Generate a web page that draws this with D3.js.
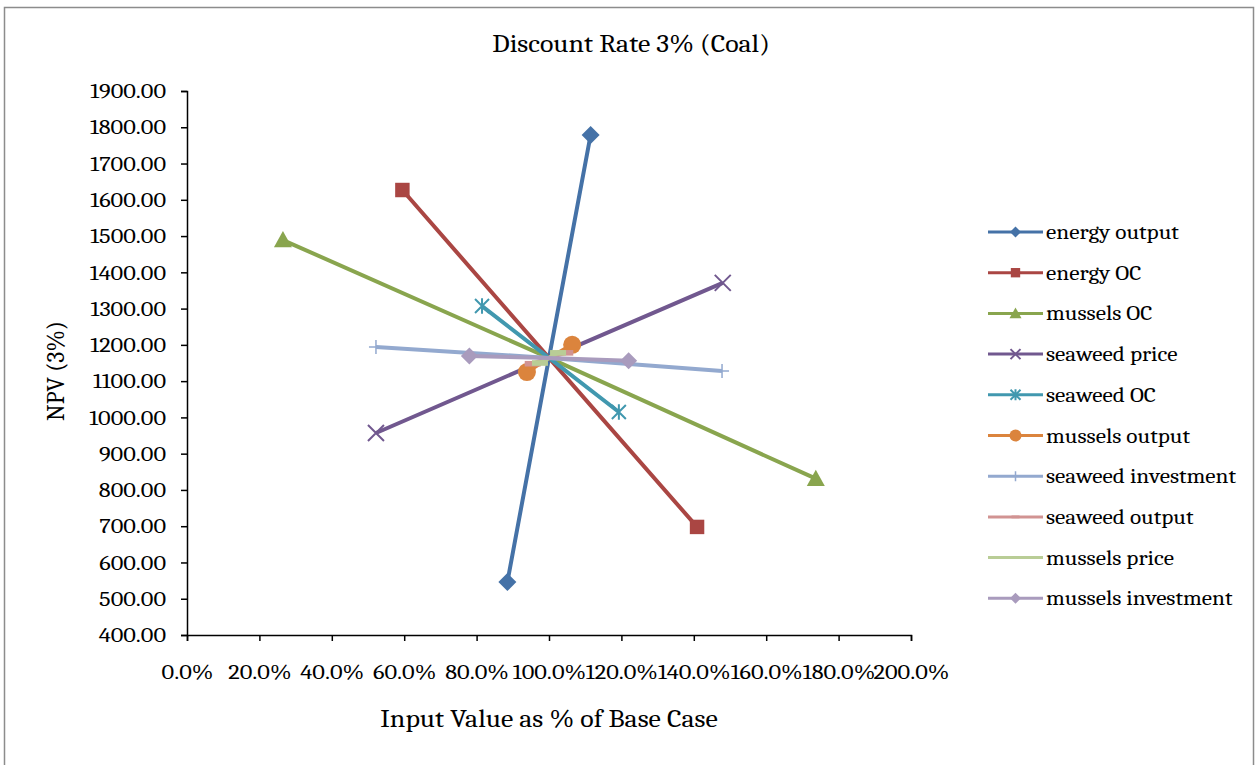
<!DOCTYPE html>
<html>
<head>
<meta charset="utf-8">
<script src="https://cdn.jsdelivr.net/npm/d3@7"></script>
<style>
  html, body { margin: 0; padding: 0; background: #fff; }
  svg { display: block; }
  text { font-family: Cambria, Caladea, "DejaVu Serif", serif; fill: #000; }
</style>
</head>
<body>
<svg id="chart" width="1258" height="765"></svg>
<script>
// Sensitivity of NPV (3% discount, coal) to each input, as % of base case
const seriesNames = [
  "energy output", "energy OC", "mussels OC", "seaweed price", "seaweed OC",
  "mussels output", "seaweed investment", "seaweed output", "mussels price", "mussels investment"
];
const energyOutput      = [[88.5, 546], [100, 1164], [111.5, 1779]];
const energyOC          = [[59.5, 1627], [100, 1164], [140.9, 698]];
const musselsOC         = [[26.5, 1489], [100, 1164], [173.7, 831]];
const seaweedPrice      = [[52.2, 957], [100, 1164], [148, 1371]];
const seaweedOC         = [[81.5, 1307], [100, 1164], [119.3, 1015]];
const musselsOutput     = [[93.9, 1125], [100, 1164], [106.4, 1200]];
const seaweedInvestment = [[52.2, 1194], [100, 1164], [147.8, 1128]];
const seaweedOutput     = [[95.5, 1148], [100, 1164], [104.5, 1178]];
const musselsPrice      = [[97.5, 1150], [100, 1164], [102.5, 1178]];
const musselsInvestment = [[78, 1169], [100, 1164], [122, 1156]];

const xTicks = [0, 20, 40, 60, 80, 100, 120, 140, 160, 180, 200];
const yTicks = [400, 500, 600, 700, 800, 900, 1000, 1100, 1200, 1300, 1400, 1500, 1600, 1700, 1800, 1900];

const seriesData = [energyOutput, energyOC, musselsOC, seaweedPrice, seaweedOC,
  musselsOutput, seaweedInvestment, seaweedOutput, musselsPrice, musselsInvestment];
const colors = ["#4572A7", "#AA4643", "#89A54E", "#71588F", "#4198AF",
  "#DB843D", "#93A9CF", "#D19392", "#B9CD96", "#A99BBD"];
const markers = ["diamond", "square", "triangle", "x", "star", "circle", "plus", "dash", "dash", "diamond"];

// text is drawn slightly widened horizontally
const SX = 1.16;

const svg = d3.select("#chart");

// outer frame
svg.append("rect").attr("x", 4.5).attr("y", 7.5).attr("width", 1249).attr("height", 800)
  .attr("fill", "#fff").attr("stroke", "#8c8c8c").attr("stroke-width", 1.5);

const x = d3.scaleLinear().domain([0, 200]).range([187, 911]);
const y = d3.scaleLinear().domain([400, 1900]).range([635, 91]);

// axes
const xAxis = d3.axisBottom(x).tickValues(xTicks).tickSizeOuter(0).tickSize(6)
  .tickFormat(d => d.toFixed(1) + "%");
const yAxis = d3.axisLeft(y).tickValues(yTicks).tickSizeOuter(0).tickSize(6)
  .tickFormat(d => d.toFixed(2));

const gx = svg.append("g").attr("transform", "translate(0,635)").call(xAxis);
gx.selectAll("text").attr("dy", "0.35em").attr("y", 37).attr("x", 0)
  .attr("transform", `scale(${SX},1)`)
  .style("font-size", "21px").attr("font-family", null);
const gy = svg.append("g").attr("transform", "translate(187,0)").call(yAxis);
gy.selectAll("text").attr("x", -21 / SX).attr("transform", `scale(${SX},1)`)
  .style("font-size", "21px").attr("font-family", null);
[gx, gy].forEach(g => {
  g.select(".domain").attr("stroke", "#000").attr("stroke-width", 1.5);
  g.selectAll(".tick line").attr("stroke", "#000").attr("stroke-width", 1.5);
});

// marker drawing
function drawMarker(g, type, color, cx, cy, s) {
  switch (type) {
    case "diamond":
      g.append("path").attr("d", `M${cx},${cy - s}L${cx + s},${cy}L${cx},${cy + s}L${cx - s},${cy}Z`)
        .attr("fill", color); break;
    case "square":
      g.append("rect").attr("x", cx - s * 0.85).attr("y", cy - s * 0.85)
        .attr("width", s * 1.7).attr("height", s * 1.7).attr("fill", color); break;
    case "triangle":
      g.append("path").attr("d", `M${cx},${cy - s}L${cx + s},${cy + s * 0.8}L${cx - s},${cy + s * 0.8}Z`)
        .attr("fill", color); break;
    case "circle":
      g.append("circle").attr("cx", cx).attr("cy", cy).attr("r", s).attr("fill", color); break;
    case "x":
      g.append("path").attr("d", `M${cx - s},${cy - s}L${cx + s},${cy + s}M${cx - s},${cy + s}L${cx + s},${cy - s}`)
        .attr("stroke", color).attr("stroke-width", 2); break;
    case "star":
      g.append("path").attr("d", `M${cx - s},${cy - s}L${cx + s},${cy + s}M${cx - s},${cy + s}L${cx + s},${cy - s}M${cx},${cy - s * 1.1}L${cx},${cy + s * 1.1}`)
        .attr("stroke", color).attr("stroke-width", 2); break;
    case "plus":
      g.append("path").attr("d", `M${cx - s},${cy}L${cx + s},${cy}M${cx},${cy - s}L${cx},${cy + s}`)
        .attr("stroke", color).attr("stroke-width", 1.5); break;
    case "dash":
      g.append("rect").attr("x", cx - s).attr("y", cy - s * 0.35)
        .attr("width", s * 2).attr("height", s * 0.7).attr("fill", color); break;
  }
}
const plotMarkerSize = [9, 8.5, 9, 8, 7, 9, 7, 8, 8, 8.5];
const line = d3.line().x(d => x(d[0])).y(d => y(d[1]));

// series
seriesData.forEach((data, i) => {
  const g = svg.append("g");
  g.append("path").attr("d", line(data)).attr("fill", "none")
    .attr("stroke", colors[i]).attr("stroke-width", 4).attr("stroke-linejoin", "round");
  [data[0], data[2]].forEach(d => drawMarker(g, markers[i], colors[i], x(d[0]), y(d[1]), plotMarkerSize[i]));
});

// legend
const legendY0 = 232, legendStep = 40.7;
const legendMarkerSize = [5.5, 5.5, 6, 5, 5, 6, 5, 4, 4, 5.5];
seriesNames.forEach((name, i) => {
  const ly = legendY0 + i * legendStep;
  const g = svg.append("g");
  g.append("line").attr("x1", 988).attr("x2", 1043).attr("y1", ly).attr("y2", ly)
    .attr("stroke", colors[i]).attr("stroke-width", 3);
  drawMarker(g, markers[i], colors[i], 1015.5, ly, legendMarkerSize[i]);
  g.append("text").attr("transform", `translate(1046,${ly}) scale(${SX},1)`).attr("dy", "0.35em")
    .style("font-size", "20px").text(name);
});

// titles
svg.append("text").attr("transform", `translate(631,52) scale(${SX},1)`).attr("text-anchor", "middle")
  .style("font-size", "24px").text("Discount Rate 3% (Coal)");
svg.append("text").attr("transform", `translate(549,727) scale(${SX},1)`).attr("text-anchor", "middle")
  .style("font-size", "24px").text("Input Value as % of Base Case");
svg.append("text").attr("transform", "translate(64,371) rotate(-90)").attr("text-anchor", "middle")
  .style("font-size", "24px").text("NPV (3%)");
</script>
</body>
</html>
